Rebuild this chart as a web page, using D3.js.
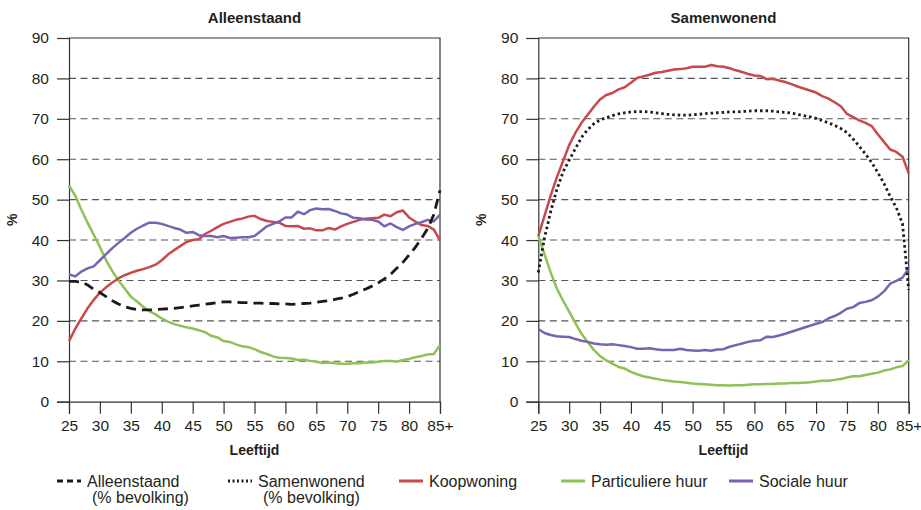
<!DOCTYPE html>
<html>
<head>
<meta charset="utf-8">
<script src="https://cdn.jsdelivr.net/npm/d3@7"></script>
<style>
  body { margin: 0; background: #fff; }
  svg text { font-family: "Liberation Sans", Arial, Helvetica, sans-serif; fill: #231f20; }
</style>
</head>
<body>
<div id="chart"></div>
<script>
//ages 25..85 (85 = "85+")
const ages = d3.range(25, 86);
const xTicks = [25, 30, 35, 40, 45, 50, 55, 60, 65, 70, 75, 80, 85];
const yTicks = [0, 10, 20, 30, 40, 50, 60, 70, 80, 90];
const panelTitles = ["Alleenstaand", "Samenwonend"];

//// left panel: Alleenstaand
const alleenBevolking = [29.8,29.8,29.6,28.9,27.8,27.0,26.0,25.0,24.2,23.5,23.1,22.8,22.7,22.7,22.8,22.9,23.0,23.1,23.3,23.5,23.7,23.9,24.1,24.3,24.5,24.7,24.7,24.6,24.5,24.5,24.4,24.4,24.3,24.3,24.2,24.2,24.1,24.2,24.3,24.4,24.6,24.8,25.0,25.3,25.6,26.0,26.6,27.3,27.9,28.6,29.4,30.4,31.5,33.0,34.5,36.3,38.2,40.4,42.8,46.3,52.3];
const alleenKoop = [15.0,18.0,20.6,23.1,25.2,27.0,28.3,29.5,30.5,31.3,31.9,32.4,32.8,33.3,33.9,35.0,36.4,37.5,38.5,39.5,40.0,40.2,41.5,42.3,43.2,44.0,44.5,45.0,45.3,45.8,46.0,45.2,44.7,44.5,44.3,43.5,43.4,43.5,42.8,42.9,42.4,42.4,43.0,42.6,43.4,44.0,44.5,45.0,45.3,45.4,45.5,46.3,45.9,46.9,47.3,45.6,44.6,43.7,43.5,42.6,40.0];
const alleenParticulier = [53.5,51.0,47.5,44.3,41.3,38.3,35.0,32.3,30.0,28.0,26.0,24.8,23.5,22.4,21.6,20.6,19.8,19.2,18.8,18.4,18.1,17.7,17.2,16.3,15.9,15.0,14.8,14.2,13.7,13.5,13.0,12.3,11.8,11.2,10.9,10.8,10.7,10.3,10.4,10.1,9.9,9.6,9.7,9.5,9.4,9.4,9.5,9.5,9.7,9.7,9.9,10.1,10.1,9.9,10.3,10.6,11.0,11.3,11.7,11.8,14.0];
const alleenSociaal = [31.5,31.0,32.2,33.0,33.5,35.0,36.5,38.0,39.3,40.5,41.8,42.8,43.6,44.3,44.3,44.0,43.5,43.0,42.6,41.8,42.0,41.2,41.0,41.0,40.7,41.0,40.5,40.6,40.7,40.7,41.0,42.2,43.4,44.0,44.6,45.6,45.6,47.0,46.4,47.4,47.8,47.6,47.7,47.2,46.6,46.3,45.5,45.4,45.1,45.0,44.6,43.4,44.1,43.2,42.5,43.4,44.0,44.4,45.0,44.6,46.3];

//// right panel: Samenwonend
const samenBevolking = [32.0,40.5,47.0,52.5,56.8,59.8,62.6,65.4,67.3,68.8,69.7,70.3,70.8,71.2,71.5,71.7,71.8,71.8,71.7,71.5,71.3,71.1,71.0,70.9,70.9,71.0,71.1,71.3,71.4,71.5,71.6,71.7,71.7,71.8,71.9,72.0,72.0,72.0,71.9,71.7,71.6,71.4,71.1,70.8,70.5,70.1,69.6,69.0,68.4,67.6,66.6,65.0,63.2,61.3,59.2,56.7,54.0,50.8,48.0,44.0,27.7];
const samenKoop = [41.0,46.0,51.0,55.5,59.5,63.5,66.5,69.0,71.0,73.0,74.8,75.9,76.4,77.3,77.8,78.9,80.1,80.5,80.9,81.4,81.6,81.9,82.2,82.3,82.5,82.9,82.9,82.9,83.3,83.0,82.9,82.5,82.0,81.6,81.1,80.7,80.6,79.8,79.9,79.5,79.1,78.6,78.0,77.5,77.0,76.5,75.6,75.0,74.1,73.1,71.2,70.4,69.6,69.0,68.2,66.2,64.3,62.4,61.8,60.6,56.5];
const samenParticulier = [41.0,36.5,32.0,28.0,25.0,22.3,19.5,16.8,14.8,12.8,11.3,10.2,9.4,8.6,8.2,7.4,6.8,6.3,6.0,5.7,5.4,5.2,5.0,4.9,4.7,4.5,4.4,4.3,4.2,4.1,4.1,4.0,4.1,4.1,4.2,4.3,4.3,4.4,4.4,4.5,4.5,4.6,4.6,4.7,4.8,5.0,5.2,5.2,5.4,5.6,6.0,6.3,6.3,6.6,6.9,7.2,7.7,8.0,8.5,8.8,10.3];
const samenSociaal = [18.0,17.0,16.5,16.2,16.1,16.0,15.5,15.1,14.8,14.4,14.2,14.1,14.2,14.0,13.8,13.5,13.1,13.1,13.2,13.0,12.8,12.8,12.8,13.1,12.8,12.7,12.6,12.8,12.6,12.9,13.0,13.6,14.0,14.4,14.8,15.1,15.2,16.1,16.0,16.4,16.8,17.3,17.8,18.3,18.8,19.3,19.7,20.6,21.2,22.0,23.0,23.4,24.4,24.7,25.1,26.0,27.3,29.2,29.9,30.7,33.0];

//series styling / legend
const seriesNames = ["Alleenstaand", "Samenwonend", "Koopwoning", "Particuliere huur", "Sociale huur"];
const colors = { koop: "#c8494b", part: "#8dc257", soc: "#7a62b2", black: "#1a1a1a" };

const width = 921, height = 510;
const svg = d3.select("#chart").append("svg")
              .attr("width", width)
              .attr("height", height);

const y = d3.scaleLinear().domain([0, 90]).range([401.7, 38]);

//////////////// draw one panel ////////////////
function drawPanel(x0, x1, title, lines) {
  let x = d3.scaleLinear().domain([25, 85]).range([x0, x1]);
  let g = svg.append("g");

  //dashed gridlines
  g.selectAll(".grid").data(yTicks.filter(d => d > 0 && d < 90))
   .enter().append("line")
   .attr("x1", x0).attr("x2", x1)
   .attr("y1", d => y(d)).attr("y2", d => y(d))
   .attr("stroke", "#555").attr("stroke-width", 1.1)
   .attr("stroke-dasharray", "7,4.5");

  //frame top + right
  g.append("path")
   .attr("d", `M${x0},${y(90)}H${x1}V${y(0)}`)
   .attr("fill", "none").attr("stroke", "#333").attr("stroke-width", 1.2);

  //y axis
  let yAxis = g.append("g")
               .attr("transform", `translate(${x0},0)`)
               .call(d3.axisLeft(y).tickValues(yTicks).tickSize(12).tickPadding(8));
  //x axis
  let xAxis = g.append("g")
               .attr("transform", `translate(0,${y(0)})`)
               .call(d3.axisBottom(x).tickValues(xTicks).tickSize(12).tickPadding(6)
                       .tickFormat(d => d === 85 ? "85+" : d));
  [yAxis, xAxis].forEach(a => {
    a.select(".domain").attr("stroke", "#333").attr("stroke-width", 1.2);
    a.selectAll(".tick line").attr("stroke", "#333").attr("stroke-width", 1.2);
    a.selectAll("text").style("font-size", "15.5px").attr("fill", "#231f20")
     .style("font-family", "'Liberation Sans', Arial, sans-serif");
  });

  //lines
  let lineGen = d3.line()
                  .x((d, i) => x(ages[i]))
                  .y(d => y(d));
  lines.forEach(l => {
    g.append("path")
     .datum(l.values)
     .attr("fill", "none")
     .attr("stroke", l.color)
     .attr("stroke-width", l.width)
     .attr("stroke-dasharray", l.dash)
     .attr("stroke-linejoin", "round")
     .attr("d", lineGen);
  });

  //title
  g.append("text")
   .attr("x", (x0 + x1) / 2).attr("y", 23)
   .attr("text-anchor", "middle")
   .style("font-size", "15px").style("font-weight", "bold")
   .text(title);
  //x label
  g.append("text")
   .attr("x", (x0 + x1) / 2).attr("y", 455)
   .attr("text-anchor", "middle")
   .style("font-size", "14px").style("font-weight", "bold")
   .text("Leeftijd");
  //y label
  g.append("text")
   .attr("transform", `translate(${x0 - 52},${y(45)}) rotate(-90)`)
   .attr("text-anchor", "middle")
   .style("font-size", "14px").style("font-weight", "bold")
   .text("%");
}

drawPanel(69, 440, panelTitles[0], [
  { values: alleenParticulier, color: colors.part, width: 2.5, dash: null },
  { values: alleenKoop, color: colors.koop, width: 2.5, dash: null },
  { values: alleenSociaal, color: colors.soc, width: 2.5, dash: null },
  { values: alleenBevolking, color: colors.black, width: 2.8, dash: "10,6" }
]);
drawPanel(538.3, 908.7, panelTitles[1], [
  { values: samenParticulier, color: colors.part, width: 2.5, dash: null },
  { values: samenSociaal, color: colors.soc, width: 2.5, dash: null },
  { values: samenKoop, color: colors.koop, width: 2.5, dash: null },
  { values: samenBevolking, color: colors.black, width: 2.8, dash: "2.5,3" }
]);

//////////////// legend ////////////////
const legendItems = [
  { name: seriesNames[0], sub: "(% bevolking)", color: colors.black, dash: "6,4", x: 57 },
  { name: seriesNames[1], sub: "(% bevolking)", color: colors.black, dash: "2,2.5", x: 228 },
  { name: seriesNames[2], sub: null, color: colors.koop, dash: null, x: 399 },
  { name: seriesNames[3], sub: null, color: colors.part, dash: null, x: 561 },
  { name: seriesNames[4], sub: null, color: colors.soc, dash: null, x: 729 }
];
let legend = svg.append("g");
legendItems.forEach(item => {
  legend.append("line")
        .attr("x1", item.x).attr("x2", item.x + 24)
        .attr("y1", 481).attr("y2", 481)
        .attr("stroke", item.color).attr("stroke-width", 3)
        .attr("stroke-dasharray", item.dash);
  legend.append("text")
        .attr("x", item.x + 30).attr("y", 487)
        .style("font-size", "16px")
        .text(item.name);
  if (item.sub) {
    legend.append("text")
          .attr("x", item.x + 35).attr("y", 503)
          .style("font-size", "16px")
          .text(item.sub);
  }
});
</script>
</body>
</html>
